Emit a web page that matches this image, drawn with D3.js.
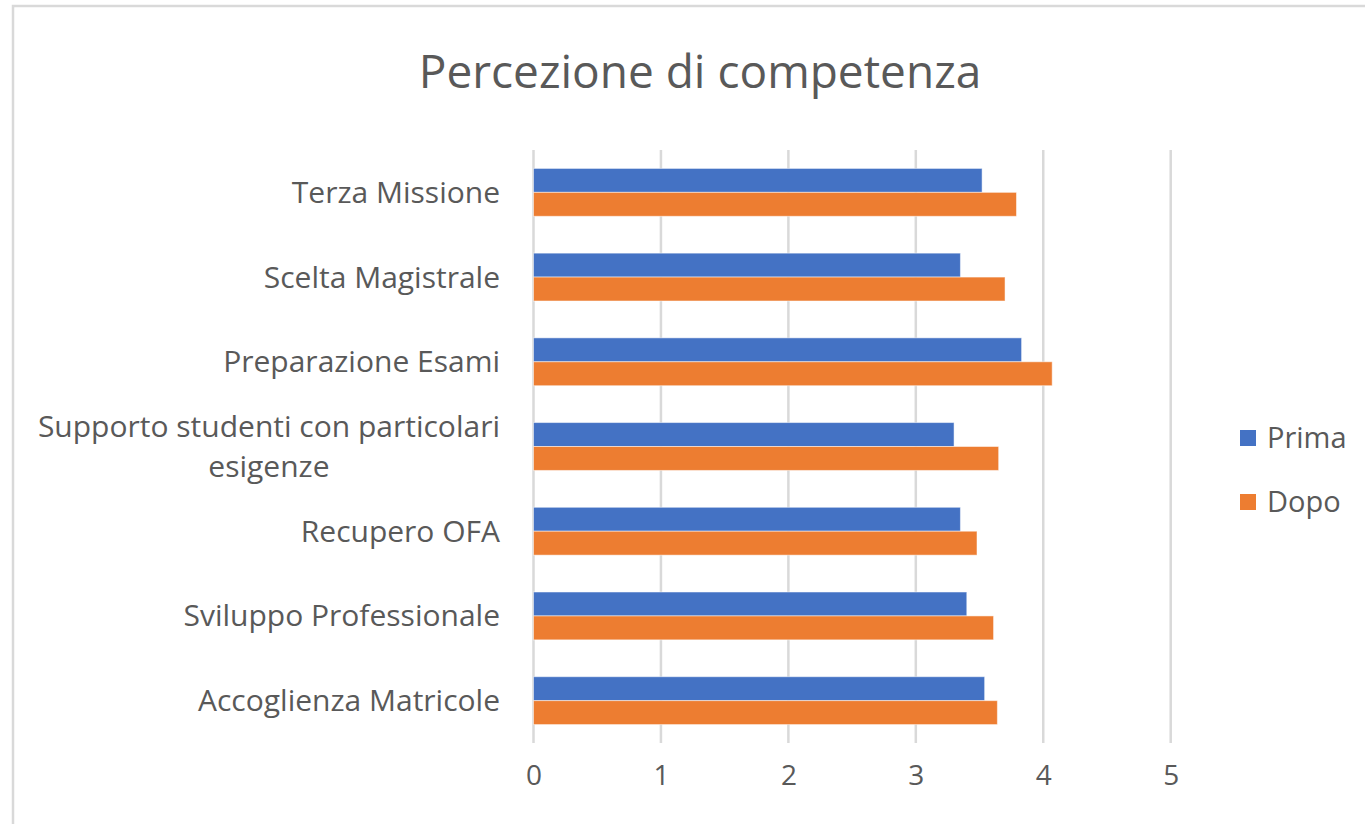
<!DOCTYPE html>
<html>
<head>
<meta charset="utf-8">
<script src="https://cdn.jsdelivr.net/npm/d3@7"></script>
<style>
  body { margin: 0; background: #fff; }
  text { font-family: "Open Sans", sans-serif; fill: #595959; }
</style>
</head>
<body>
<div id="chart"></div>
<script>
var categories = ["Terza Missione", "Scelta Magistrale", "Preparazione Esami",
  "Supporto studenti con particolari|esigenze", "Recupero OFA",
  "Sviluppo Professionale", "Accoglienza Matricole"];
var series = ["Prima", "Dopo"];
var prima = [3.52, 3.35, 3.83, 3.30, 3.35, 3.40, 3.54];
var dopo = [3.79, 3.70, 4.07, 3.65, 3.48, 3.61, 3.64];
var xTicks = [0, 1, 2, 3, 4, 5];
var colors = ["#4472C4", "#ED7D31"];

var W = 1365, H = 824;
var svg = d3.select("#chart").append("svg")
  .attr("width", W)
  .attr("height", H);

// chart frame
svg.append("rect")
  .attr("x", 13).attr("y", 6)
  .attr("width", W + 20).attr("height", H + 20)
  .attr("fill", "#fff")
  .attr("stroke", "#d9d9d9")
  .attr("stroke-width", 2.5);

svg.append("text")
  .attr("x", 700).attr("y", 72)
  .attr("dy", "0.35em")
  .attr("text-anchor", "middle")
  .style("font-size", "46px")
  .text("Percezione di competenza");

var x = d3.scaleLinear().domain([0, 5]).range([533.5, 1170.7]);
var y = d3.scaleBand()
  .domain(categories)
  .range([150, 743])
  .paddingInner(0.435)
  .paddingOuter(0.2175);
var ySub = d3.scaleBand().domain(series).range([0, y.bandwidth()]);

// gridlines
svg.append("g").selectAll("line")
  .data(xTicks)
  .enter().append("line")
  .attr("x1", function(d) { return x(d); })
  .attr("x2", function(d) { return x(d); })
  .attr("y1", 150).attr("y2", 743)
  .attr("stroke", "#d9d9d9")
  .attr("stroke-width", 2.5);

// x axis labels
var xAxis = svg.append("g")
  .attr("transform", "translate(0,743)")
  .call(d3.axisBottom(x).tickValues(xTicks).tickFormat(d3.format("d")).tickSize(0).tickPadding(22));
xAxis.select(".domain").remove();
xAxis.selectAll("text")
  .style("font-size", "28px")
  .style("font-family", "'Open Sans', sans-serif")
  .attr("fill", "#595959");

var rows = categories.map(function(c, i) {
  return {cat: c, vals: [prima[i], dopo[i]]};
});

var grp = svg.append("g").selectAll("g")
  .data(rows)
  .enter().append("g")
  .attr("transform", function(d) { return "translate(0," + y(d.cat) + ")"; });

grp.selectAll("rect")
  .data(function(d) { return d.vals.map(function(v, j) { return {s: series[j], v: v, j: j}; }); })
  .enter().append("rect")
  .attr("x", x(0))
  .attr("y", function(d) { return ySub(d.s); })
  .attr("width", function(d) { return x(d.v) - x(0); })
  .attr("height", ySub.bandwidth())
  .attr("fill", function(d) { return colors[d.j]; })
  .attr("stroke", "#fff")
  .attr("stroke-opacity", 0.5)
  .attr("stroke-width", 1);

// category labels (right aligned, wrapped ones centered in their block)
grp.each(function(d) {
  var g = d3.select(this);
  var lines = d.cat.split("|");
  var cy = y.bandwidth() / 2;
  var t = g.append("text")
    .attr("text-anchor", "middle")
    .style("font-size", "30px");
  var spans = lines.map(function(l, k) {
    return t.append("tspan")
      .attr("y", cy + (k - (lines.length - 1) / 2) * 40)
      .attr("dy", "0.35em")
      .text(l);
  });
  var w = d3.max(spans, function(s) { return s.node().getComputedTextLength(); });
  spans.forEach(function(s) { s.attr("x", 500 - w / 2); });
});

// legend
var leg = svg.append("g").selectAll("g")
  .data(series)
  .enter().append("g")
  .attr("transform", function(d, i) { return "translate(1240," + (438 + i * 64) + ")"; });
leg.append("rect")
  .attr("x", 0).attr("y", -8)
  .attr("width", 16).attr("height", 16)
  .attr("fill", function(d, i) { return colors[i]; });
leg.append("text")
  .attr("x", 27).attr("y", 0)
  .attr("dy", "0.35em")
  .style("font-size", "29px")
  .text(function(d) { return d; });
</script>
</body>
</html>
